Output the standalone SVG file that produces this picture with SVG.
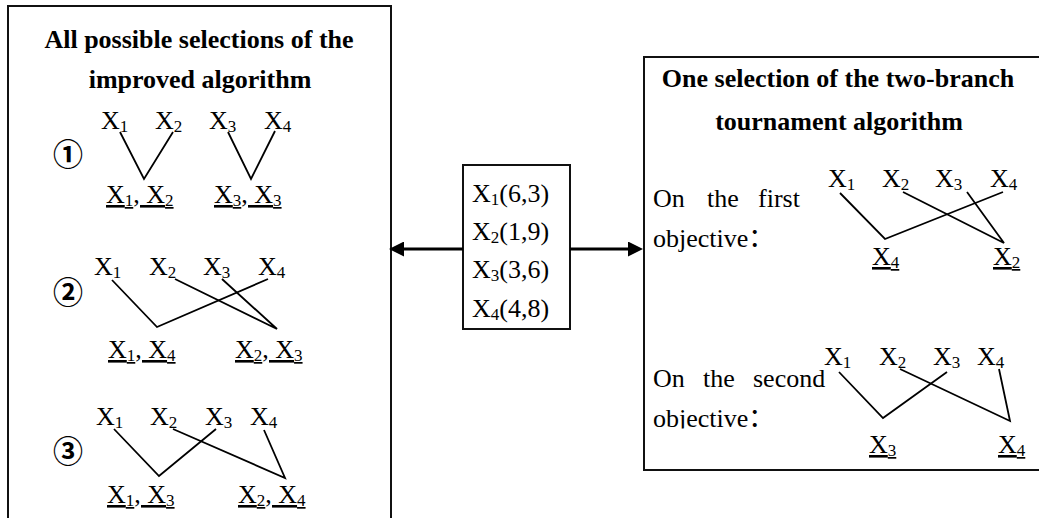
<svg xmlns="http://www.w3.org/2000/svg" width="1039" height="518" viewBox="0 0 1039 518">
<style>
.t{font-family:"Liberation Serif","Times New Roman","Noto Sans CJK SC",serif;font-size:26px;fill:#000}
.s{font-size:17px}
.b{font-weight:bold}
.u{text-decoration:underline}
.c{font-family:"Noto Sans CJK SC","DejaVu Sans",sans-serif;font-size:30px;font-weight:bold;fill:#000;text-anchor:middle}
.box{fill:none;stroke:#111;stroke-width:2}
.ln{fill:none;stroke:#000;stroke-width:1.8;stroke-linejoin:miter}
.ar{fill:none;stroke:#000;stroke-width:3}
</style>
<defs>
<marker id="arrow" viewBox="0 0 15 15" refX="9" refY="7.5" markerWidth="15" markerHeight="15" markerUnits="userSpaceOnUse" orient="auto">
<path d="M0,0 L15,7.5 L0,15 Z" fill="#000"/>
</marker>
<clipPath id="objclip"><rect x="640" y="380" width="200" height="48.5"/></clipPath>
</defs>

<g id="left-panel">
<path class="box" d="M8,518 V6 H391 V518"/>
<text class="t b" x="199" y="48" text-anchor="middle">All possible selections of the</text>
<text class="t b" x="200" y="88" text-anchor="middle">improved algorithm</text>
<g id="sel1">
<text class="c" x="68" y="165">①</text>
<text class="t" x="101" y="129">X<tspan class="s" dy="3">1</tspan></text>
<text class="t" x="155" y="129">X<tspan class="s" dy="3">2</tspan></text>
<text class="t" x="209" y="129">X<tspan class="s" dy="3">3</tspan></text>
<text class="t" x="264" y="129">X<tspan class="s" dy="3">4</tspan></text>
<text class="t u" x="106" y="203">X<tspan class="s" dy="3">1</tspan><tspan dy="-3">, X</tspan><tspan class="s" dy="3">2</tspan></text>
<text class="t u" x="214" y="203">X<tspan class="s" dy="3">3</tspan><tspan dy="-3">, X</tspan><tspan class="s" dy="3">3</tspan></text>
</g>
<g id="sel2">
<text class="c" x="68" y="303">②</text>
<text class="t" x="94" y="275">X<tspan class="s" dy="3">1</tspan></text>
<text class="t" x="149" y="275">X<tspan class="s" dy="3">2</tspan></text>
<text class="t" x="203" y="275">X<tspan class="s" dy="3">3</tspan></text>
<text class="t" x="258" y="275">X<tspan class="s" dy="3">4</tspan></text>
<text class="t u" x="108" y="358">X<tspan class="s" dy="3">1</tspan><tspan dy="-3">, X</tspan><tspan class="s" dy="3">4</tspan></text>
<text class="t u" x="235" y="358">X<tspan class="s" dy="3">2</tspan><tspan dy="-3">, X</tspan><tspan class="s" dy="3">3</tspan></text>
</g>
<g id="sel3">
<text class="c" x="68" y="462">③</text>
<text class="t" x="96" y="425">X<tspan class="s" dy="3">1</tspan></text>
<text class="t" x="150" y="425">X<tspan class="s" dy="3">2</tspan></text>
<text class="t" x="205" y="425">X<tspan class="s" dy="3">3</tspan></text>
<text class="t" x="250" y="425">X<tspan class="s" dy="3">4</tspan></text>
<text class="t u" x="107" y="503">X<tspan class="s" dy="3">1</tspan><tspan dy="-3">, X</tspan><tspan class="s" dy="3">3</tspan></text>
<text class="t u" x="238" y="503">X<tspan class="s" dy="3">2</tspan><tspan dy="-3">, X</tspan><tspan class="s" dy="3">4</tspan></text>
</g>
</g>

<g id="data-box">
<rect class="box" x="463" y="165" width="107" height="164" stroke-width="1.5"/>
<text class="t" x="472" y="202">X<tspan class="s" dy="3">1</tspan><tspan dy="-3">(6,3)</tspan></text>
<text class="t" x="472" y="240">X<tspan class="s" dy="3">2</tspan><tspan dy="-3">(1,9)</tspan></text>
<text class="t" x="472" y="278">X<tspan class="s" dy="3">3</tspan><tspan dy="-3">(3,6)</tspan></text>
<text class="t" x="472" y="317">X<tspan class="s" dy="3">4</tspan><tspan dy="-3">(4,8)</tspan></text>
</g>

<g id="right-panel">
<path class="box" d="M1039,57 H644 V470 H1039"/>
<text class="t b" x="838" y="87" text-anchor="middle">One selection of the two-branch</text>
<text class="t b" x="839" y="130" text-anchor="middle">tournament algorithm</text>
<g id="first-objective">
<text class="t" x="653" y="207">On</text>
<text class="t" x="707" y="207">the</text>
<text class="t" x="758" y="207">first</text>
<text class="t" x="653" y="247">objective<tspan>：</tspan></text>
<text class="t" x="828" y="187">X<tspan class="s" dy="3">1</tspan></text>
<text class="t" x="882" y="187">X<tspan class="s" dy="3">2</tspan></text>
<text class="t" x="935" y="187">X<tspan class="s" dy="3">3</tspan></text>
<text class="t" x="990" y="187">X<tspan class="s" dy="3">4</tspan></text>
<text class="t u" x="872" y="265">X<tspan class="s" dy="3">4</tspan></text>
<text class="t u" x="993" y="265">X<tspan class="s" dy="3">2</tspan></text>
</g>
<g id="second-objective">
<text class="t" x="653" y="387">On</text>
<text class="t" x="703" y="387">the</text>
<text class="t" x="753" y="387">second</text>
<text class="t" x="653" y="427" clip-path="url(#objclip)">objective<tspan>：</tspan></text>
<text class="t" x="824" y="365">X<tspan class="s" dy="3">1</tspan></text>
<text class="t" x="879" y="365">X<tspan class="s" dy="3">2</tspan></text>
<text class="t" x="933" y="365">X<tspan class="s" dy="3">3</tspan></text>
<text class="t" x="977" y="365">X<tspan class="s" dy="3">4</tspan></text>
<text class="t u" x="869" y="453">X<tspan class="s" dy="3">3</tspan></text>
<text class="t u" x="998" y="453">X<tspan class="s" dy="3">4</tspan></text>
</g>
</g>

<g id="connectors">
<polyline class="ln" points="120,132 144,179 173,132"/>
<polyline class="ln" points="228,132 251,179 275,131"/>
<polyline class="ln" points="112,280 157,327 268,279"/>
<polyline class="ln" points="175,279 277,329 222,279"/>
<polyline class="ln" points="114,429 159,476 216,429"/>
<polyline class="ln" points="173,429 285,478 264,430"/>
<polyline class="ln" points="840,193 885,239 1003,192"/>
<polyline class="ln" points="903,192 1004,243 967,192"/>
<polyline class="ln" points="839,372 883,418 947,372"/>
<polyline class="ln" points="900,369 1010,421 999,369"/>
<line class="ar" x1="463" y1="249" x2="395" y2="249" marker-end="url(#arrow)"/>
<line class="ar" x1="570" y1="249" x2="637" y2="249" marker-end="url(#arrow)"/>
</g>
</svg>
